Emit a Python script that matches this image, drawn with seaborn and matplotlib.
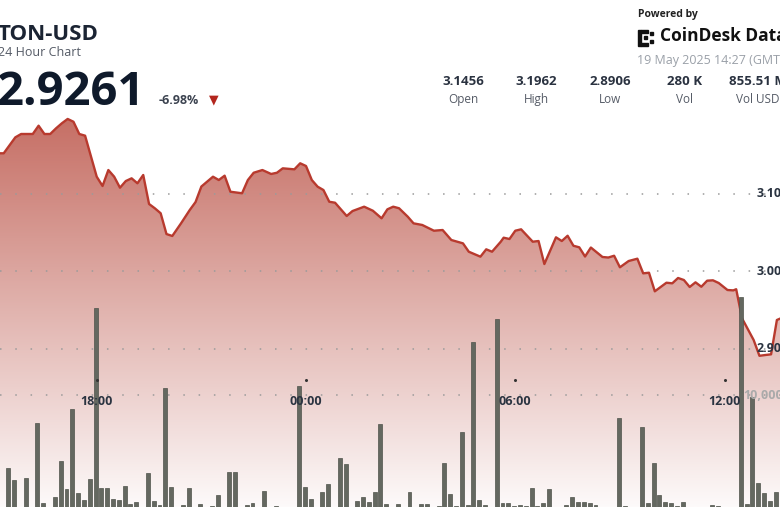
import numpy as np
import pandas as pd
import seaborn as sns
import matplotlib
matplotlib.use("Agg")
import matplotlib.pyplot as plt
import matplotlib.dates as mdates
from matplotlib.colors import LinearSegmentedColormap
from matplotlib.transforms import blended_transform_factory
from matplotlib.patches import Rectangle

# price path (18 May 15:10 -> 19 May 13:40, GMT)
price_times = [
    "15:10", "15:20", "15:40", "15:50", "16:10", "16:20", "16:30", "16:40", "16:50", "17:00",
    "17:10", "17:20", "17:30", "17:40", "18:00", "18:10", "18:20", "18:30", "18:40", "18:50",
    "19:00", "19:10", "19:20", "19:30", "19:40", "19:50", "20:00", "20:10", "20:25", "20:40",
    "20:50", "21:00", "21:20", "21:30", "21:40", "21:50", "22:10", "22:20", "22:30", "22:45",
    "23:00", "23:10", "23:20", "23:40", "23:50", "00:00", "00:10", "00:20", "00:30", "00:40",
    "00:50", "01:10", "01:20", "01:40", "01:55", "02:10", "02:20", "02:30", "02:40", "02:55",
    "03:05", "03:20", "03:40", "03:55", "04:10", "04:30", "04:40", "05:00", "05:10", "05:20",
    "05:35", "05:40", "05:50", "06:00", "06:10", "06:30", "06:40", "06:50", "07:10", "07:20",
    "07:30", "07:40", "07:50", "08:00", "08:10", "08:30", "08:40", "08:50", "09:00", "09:15",
    "09:30", "09:40", "09:50", "10:00", "10:20", "10:30", "10:40", "10:50", "11:00", "11:10",
    "11:20", "11:30", "11:40", "11:50", "12:05", "12:15", "12:20", "12:30", "12:50", "13:00",
    "13:10", "13:20", "13:30", "13:40",
]
prices = [
    3.1519, 3.1519, 3.1725, 3.1768, 3.1768, 3.1875, 3.1768, 3.1768, 3.1841, 3.1906,
    3.1962, 3.1926, 3.1768, 3.1746, 3.1217, 3.1097, 3.1303, 3.1217, 3.1075, 3.1161,
    3.1196, 3.1132, 3.1239, 3.0865, 3.0809, 3.0745, 3.0477, 3.0452, 3.0615, 3.0787,
    3.0890, 3.1090, 3.1217, 3.1174, 3.1230, 3.1023, 3.1003, 3.1174, 3.1268, 3.1303,
    3.1252, 3.1268, 3.1325, 3.1312, 3.1390, 3.1355, 3.1174, 3.1088, 3.1045, 3.0894,
    3.0881, 3.0710, 3.0774, 3.0830, 3.0778, 3.0680, 3.0796, 3.0830, 3.0810, 3.0701,
    3.0615, 3.0594, 3.0520, 3.0529, 3.0400, 3.0357, 3.0249, 3.0185, 3.0280, 3.0249,
    3.0378, 3.0430, 3.0413, 3.0520, 3.0538, 3.0378, 3.0387, 3.0090, 3.0435, 3.0387,
    3.0455, 3.0326, 3.0306, 3.0187, 3.0303, 3.0181, 3.0174, 3.0197, 3.0048, 3.0129,
    3.0159, 2.9970, 2.9978, 2.9738, 2.9849, 2.9841, 2.9910, 2.9884, 2.9794, 2.9854,
    2.9797, 2.9875, 2.9880, 2.9845, 2.9755, 2.9750, 2.9765, 2.9390, 2.9110, 2.8906,
    2.8916, 2.8925, 2.9368, 2.9400,
]

# 10-minute volume buckets, first bucket centred 18 May 15:28
vol_start = "2025-05-18 15:28"
volumes = [
    3450, 2410, 0, 2620, 0, 7470, 330, 0, 870, 4110,
    1580, 8720, 1220, 630, 2500, 17740, 1720, 1720, 710, 630,
    1880, 270, 420, 0, 3060, 540, 180, 10650, 1760, 0,
    180, 1670, 0, 270, 0, 100, 1070, 0, 3150, 3150,
    0, 180, 330, 0, 1460, 0, 100, 0, 0, 0,
    10800, 1810, 710, 0, 1370, 2050, 0, 4400, 3810, 0,
    560, 920, 470, 1370, 7410, 270, 0, 270, 0, 1370,
    0, 270, 270, 0, 100, 3900, 1160, 50, 6720, 180,
    14760, 630, 180, 0, 16760, 330, 330, 100, 180, 100,
    1670, 100, 330, 1610, 0, 0, 180, 870, 470, 420,
    330, 180, 0, 0, 0, 7920, 100, 0, 0, 7120,
    330, 3960, 1070, 470, 330, 100, 470, 0, 0, 0,
    0, 180, 100, 0, 0, 0, 18730, 270, 9850, 2170,
    1220, 540, 1370, 470,
]

price_ticks = [2.90, 3.00, 3.10]
volume_ticks = [10000]
time_ticks = ["2025-05-18 18:00", "2025-05-19 00:00", "2025-05-19 06:00", "2025-05-19 12:00"]
time_labels = ["18:00", "00:00", "06:00", "12:00"]

stat_values = ["3.1456", "3.1962", "2.8906", "280 K", "855.51 M"]
stat_names = ["Open", "High", "Low", "Vol", "Vol USD"]


def to_datetimes(hhmm):
    out = []
    for s in hhmm:
        day = "2025-05-18" if s >= "15:00" else "2025-05-19"
        out.append(pd.Timestamp(day + " " + s))
    return out


W, H = 780, 507
LINE = "#b83a2e"
INK = "#1b2433"

sns.set_theme(style="white")
plt.rcParams["font.family"] = ["Open Sans", "DejaVu Sans"]

df = pd.DataFrame({"time": to_datetimes(price_times), "price": prices})
vol_df = pd.DataFrame({
    "time": pd.date_range(vol_start, periods=len(volumes), freq="10min"),
    "volume": volumes,
})

fig = plt.figure(figsize=(W / 100, H / 100), dpi=100)
fig.patch.set_facecolor("white")
ax = fig.add_axes([0, 0, 1, 1])
ax2 = ax.twinx()

x0 = pd.Timestamp("2025-05-18 15:13:37")
x1 = pd.Timestamp("2025-05-19 13:35:21")
y0, y1 = 2.6955, 3.3497

# gradient area under the price
fill = ax.fill_between(df["time"], df["price"], y0, color="none", lw=0)
grad = np.linspace(0, 1, 256).reshape(-1, 1)
cmap = LinearSegmentedColormap.from_list("ton", ["#fdfafa", "#c66f65"])
im = ax.imshow(grad, aspect="auto", cmap=cmap, origin="lower", zorder=0.5,
               extent=[mdates.date2num(x0), mdates.date2num(x1), y0, max(prices)])
im.set_clip_path(fill.get_paths()[0], transform=ax.transData)

sns.lineplot(data=df, x="time", y="price", ax=ax, color=LINE, lw=1.7, zorder=3)

for v in price_ticks:
    ax.axhline(v, color="#9a9a9a", lw=1.1, linestyle=(0, (1, 9)), zorder=2)

ax.set_xlim(x0, x1)
ax.set_ylim(y0, y1)
ax.set_axis_off()

# volume bars on a twin axis
ax2.bar(vol_df["time"], vol_df["volume"], width=0.68 / 144,
        color="#646860", edgecolor="#4f534b", lw=0.5, zorder=3)
for v in volume_ticks:
    ax2.axhline(v, color="#9a9a9a", lw=1.1, linestyle=(0, (1, 9)), zorder=1)
ax2.set_xlim(x0, x1)
ax2.set_ylim(0, 45268)
ax2.set_axis_off()

# axis labels drawn inside the plot
yt = blended_transform_factory(ax.transAxes, ax.transData)
for v in price_ticks:
    ax.text(757 / W, v, f"{v:.2f}", transform=yt, ha="left", va="center",
            fontsize=9, fontweight="bold", color="#2b3441", zorder=5)
vt = blended_transform_factory(ax2.transAxes, ax2.transData)
for v in volume_ticks:
    ax2.text(743 / W, v, f"{v:,}", transform=vt, ha="left", va="center",
             fontsize=9, fontweight="bold", color="#aaaaaa", zorder=5)

xt = blended_transform_factory(ax2.transData, ax2.transAxes)
for t, lbl in zip(time_ticks, time_labels):
    tn = mdates.date2num(pd.Timestamp(t))
    ax2.text(tn, 1 - 405 / H, lbl, transform=xt, ha="center", va="baseline",
             fontsize=9, fontweight="bold", color="#2b3441", zorder=5)
    ax2.plot([tn], [1 - 380 / H], transform=xt, marker="o", ms=1.2,
             color="#333333", zorder=5)


def ftext(x, y, s, **kw):
    fig.text(x / W, 1 - y / H, s, va="baseline", **kw)


# header
ftext(-2, 40, "TON-USD", fontsize=16, fontweight="bold", color=INK)
ftext(-2, 56, "24 Hour Chart", fontsize=9, color="#555b66")
ftext(-4, 105, "2.9261", fontsize=34, fontweight="bold", color="#0f1a2b")
ftext(159, 104, "-6.98%", fontsize=9, fontweight="bold", color="#3c4350")
fig.text(214 / W, 1 - 100 / H, "\u25BC", ha="center", va="center", fontsize=9,
         color="#b3261e", family=["DejaVu Sans"])

stat_x = [463, 536, 610, 685, 758]
for x, val, name in zip(stat_x, stat_values, stat_names):
    ftext(x, 85, val, ha="center", fontsize=9.5, fontweight="bold", color="#2a3240")
    ftext(x, 103, name, ha="center", fontsize=8.5, color="#555b66")

ftext(638, 17, "Powered by", fontsize=7.5, fontweight="bold", color="#222222")
ftext(660, 41, "CoinDesk Data", fontsize=12.5, fontweight="bold", color="#111111")
ftext(637, 64, "19 May 2025 14:27 (GMT)", fontsize=9, color="#9aa0a8")

# small logo mark
for (lx, ly, lw_, lh) in [(638, 30, 3, 16), (641, 30, 7, 2.5), (641, 43.5, 7, 2.5),
                          (644, 36.5, 2.5, 2.5), (650, 32, 2.5, 2.5), (650, 40, 2.5, 2.5)]:
    fig.patches.append(Rectangle((lx / W, 1 - (ly + lh) / H), lw_ / W, lh / H,
                                 transform=fig.transFigure, color="#111111"))

fig.savefig("out.png", dpi=100)
